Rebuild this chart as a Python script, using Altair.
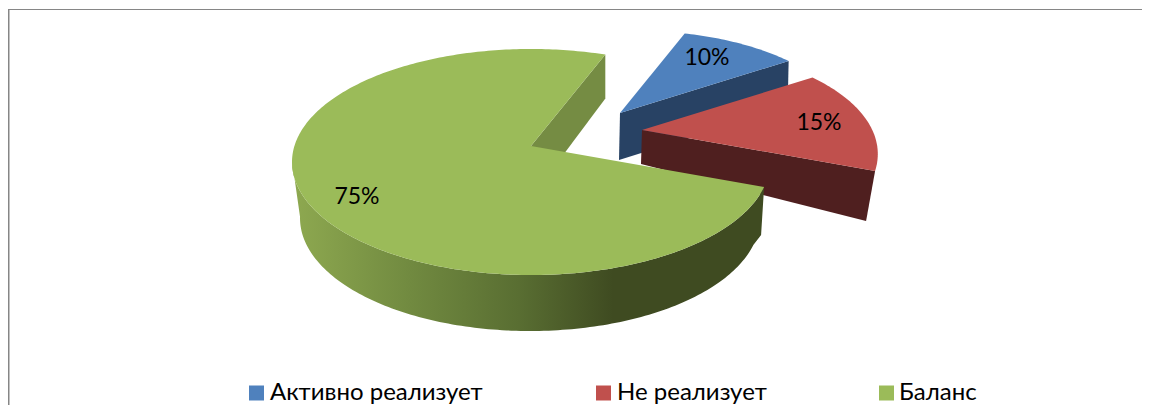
import math
import altair as alt
import pandas as pd

categories = ["Активно реализует", "Не реализует", "Баланс"]
shares = [10, 15, 75]
share_labels = ["10%", "15%", "75%"]

# ---- layout of the 3D drawing (picture pixels) ----
TOP = dict(cx=531, cy=162, rx=239, ry=113)
BOTTOM = dict(cx=530, cy=218, rx=230, ry=113)
Q = 0.075          # perspective squeeze of the far side
FIRST_ANGLE = 21   # first slice angle, degrees clockwise from the far point
GREEN_APEX = (531, 146)
slice_style = [
    dict(apex=(620, 113), scale=(0.87, 0.92), top="#4F81BD", wall="#284264",
         drop_apex=(-1, 47), drop_rim=(-1, 46)),
    dict(apex=(642, 130), scale=(0.93, 1.0), top="#C0504D", wall="#4F1F1F",
         drop_apex=(-1, 34), drop_rim=(-9, 50)),
    dict(apex=GREEN_APEX, scale=(1.0, 1.0), top="#9BBB59", wall="#758C43",
         drop_apex=(0, 52), drop_rim=(-3, 48)),
]
label_pos = [(707, 58), (819, 123), (357, 197)]
legend_square_x = [256.5, 603.5, 886.5]
legend_text_x = [270, 617, 899]
FONT = "Lato"
X_DOMAIN = [8, 1142]


def warp(theta_deg):
    """True pie angle -> ellipse parameter under perspective."""
    t = math.radians(theta_deg)
    z = complex(math.cos(t), math.sin(t))
    w = (z + Q) / (1 + Q * z)
    return math.atan2(w.imag, w.real)


def rim(theta_deg, e):
    phi = warp(theta_deg)
    return (e["cx"] + e["rx"] * math.sin(phi), e["cy"] - e["ry"] * math.cos(phi))


def arc(t0, t1, e, step=1.0):
    n = max(2, int(abs(t1 - t0) / step))
    return [rim(t0 + (t1 - t0) * i / n, e) for i in range(n + 1)]


X = alt.X("x:Q", scale=alt.Scale(domain=X_DOMAIN), axis=None)
Y = alt.Y("y:Q", scale=alt.Scale(domain=[405, 8]), axis=None)


def polygon(points, fill):
    df = pd.DataFrame(points + [points[0]], columns=["x", "y"])
    df["i"] = range(len(df))
    return alt.Chart(df).mark_line(fill=fill, stroke=None, strokeWidth=0, clip=False).encode(
        x=X, y=Y, order="i:Q"
    )


# ---- slices ----
layers = []
starts = []
a = FIRST_ANGLE
for s in shares:
    starts.append(a)
    a += s * 3.6
ends = [st + s * 3.6 for st, s in zip(starts, shares)]


def offset_arc(i, t0, t1):
    st = slice_style[i]
    ax, ay = st["apex"]
    gx, gy = GREEN_APEX
    s0, s1 = st["scale"]
    raw = arc(t0, t1, TOP)
    out = []
    for k, (x, y) in enumerate(raw):
        f = s0 + (s1 - s0) * k / (len(raw) - 1)
        out.append((ax + (x - gx) * f, ay + (y - gy) * f))
    return out


# blue and red: flat cut wall and top face
for i in (0, 1):
    st = slice_style[i]
    ax, ay = st["apex"]
    pts = offset_arc(i, starts[i], ends[i])
    ex, ey = pts[-1]
    wall = [(ax, ay), (ex, ey),
            (ex + st["drop_rim"][0], ey + st["drop_rim"][1]),
            (ax + st["drop_apex"][0], ay + st["drop_apex"][1])]
    layers.append(polygon(wall, st["wall"]))
    layers.append(polygon([(ax, ay)] + pts, st["top"]))

# green: inner cut wall, outer gradient wall, top face
st = slice_style[2]
ax, ay = st["apex"]
end_pt = rim(ends[2], TOP)
layers.append(polygon([
    (ax, ay), end_pt, (end_pt[0], end_pt[1] + 44), (ax, ay + st["drop_apex"][1])
], st["wall"]))

wall_gradient = alt.Gradient(
    gradient="linear", x1=0, x2=1, y1=0, y2=0,
    stops=[
        alt.GradientStop(offset=0.0, color="#8EA950"),
        alt.GradientStop(offset=0.25, color="#718A40"),
        alt.GradientStop(offset=0.48, color="#596E32"),
        alt.GradientStop(offset=0.68, color="#3F4B21"),
        alt.GradientStop(offset=1.0, color="#3F4B21"),
    ],
)
outer_top = arc(starts[2], 262, TOP)
outer_bottom = arc(starts[2], 262, BOTTOM)
outer_bottom[0] = (outer_top[0][0] + st["drop_rim"][0], outer_top[0][1] + st["drop_rim"][1])
layers.append(polygon(outer_top + outer_bottom[::-1], wall_gradient))
layers.append(polygon([(ax, ay)] + arc(starts[2], ends[2], TOP), st["top"]))

# ---- share labels ----
label_df = pd.DataFrame({
    "x": [p[0] for p in label_pos],
    "y": [p[1] for p in label_pos],
    "t": share_labels,
})
layers.append(alt.Chart(label_df).mark_text(
    font=FONT, fontSize=23, color="black", align="center", baseline="middle"
).encode(x=X, y=Y, text="t:N"))

# ---- legend ----
legend_df = pd.DataFrame({
    "x": legend_square_x,
    "tx": legend_text_x,
    "y": [393] * 3,
    "t": categories,
    "c": [s["top"] for s in slice_style],
})
layers.append(alt.Chart(legend_df).mark_square(size=225, opacity=1).encode(
    x=X, y=Y, color=alt.Color("c:N", scale=None)
))
layers.append(alt.Chart(legend_df).mark_text(
    font=FONT, fontSize=24, color="black", align="left", baseline="middle"
).encode(x=alt.X("tx:Q", scale=alt.Scale(domain=X_DOMAIN), axis=None), y=Y, text="t:N"))

# ---- frame ----
frame_top = pd.DataFrame({"x": [8], "x2": [1142], "y": [9.5]})
frame_left = pd.DataFrame({"x": [8.5], "y": [9], "y2": [405]})
layers.append(alt.Chart(frame_top).mark_rule(color="#868686", strokeWidth=1.2).encode(x=X, x2="x2:Q", y=Y))
layers.append(alt.Chart(frame_left).mark_rule(color="#868686", strokeWidth=2).encode(x=X, y=Y, y2="y2:Q"))

chart = alt.layer(*layers).properties(
    width=1134, height=397, padding=0,
    autosize=alt.AutoSizeParams(type="none"),
).configure_view(stroke=None)

chart.save("out.html", embed_options={"renderer": "svg", "actions": False})
